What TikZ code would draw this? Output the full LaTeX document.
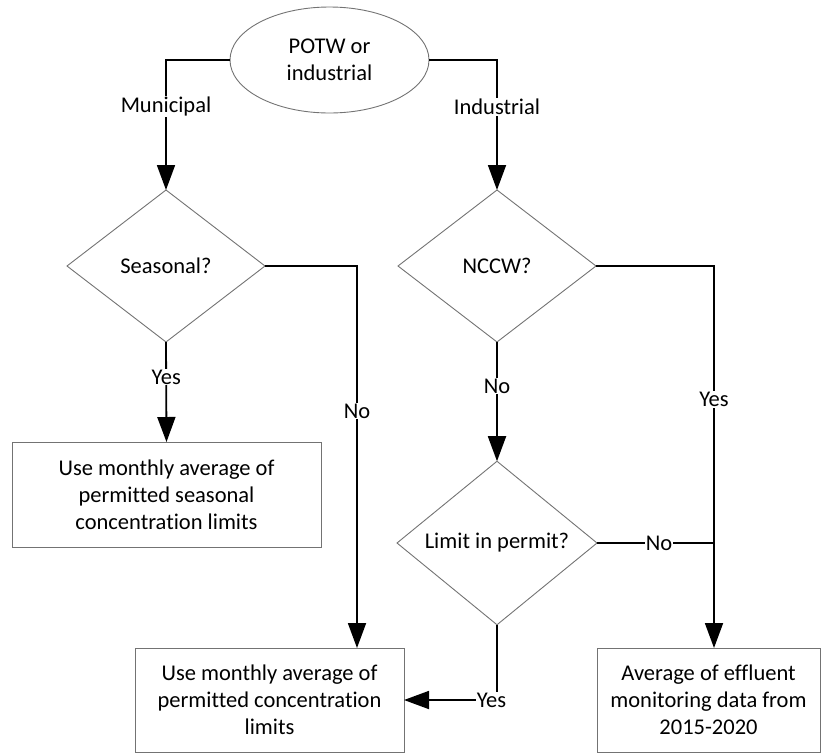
\documentclass[tikz,border=0pt]{standalone}
\usepackage{fontspec}
\setmainfont{Carlito}[Ligatures=NoCommon]
\usetikzlibrary{shapes.geometric}
\usetikzlibrary{arrows.meta}

\begin{document}
\begin{tikzpicture}[
        x = 1pt, y = -1pt,
        every node/.style = {font=\fontsize{22.5}{27}\selectfont},
        start/.style = {
            draw=black!55,
            ellipse,
            line width = 0.9pt,
            minimum width = 199pt,
            minimum height = 106pt,
            inner sep = 0pt,
            outer sep = 0pt,
            align = center
        },
        decision/.style = {
            draw=black!55,
            diamond,
            line width = 0.9pt,
            minimum width = #1,
            minimum height = 152pt,
            inner sep = 0pt,
            outer sep = 0pt
        },
        decision/.default = 198pt,
        block/.style = {
            draw=black!55,
            rectangle,
            line width = 0.9pt,
            minimum width = #1,
            minimum height = 104pt,
            inner sep = 0pt,
            outer sep = 0pt,
            align = center
        },
        block/.default = 269pt,
        conn/.style = {line width = 1.8pt, draw=black},
        flow/.style = {conn, -{Triangle[length=25pt, width=18pt]}},
        lab/.style = {fill=white, inner sep=1pt}
    ]
    \useasboundingbox (0,0) rectangle (821,753);
    {\node[start] (pot) at (329.5,60) {POTW or\\industrial};}
    {\node[decision] (seas) at (166,266) {Seasonal?};}
    {\node[decision] (nccw) at (497,266) {NCCW?};}
    {\node[block=309pt, minimum height=105pt] (seasbox) at (166.5,494.5) {Use monthly average of\\permitted seasonal\\concentration limits};}
    {\node[decision=200pt] (limit) at (497,543) {Limit in permit?};}
    {\node[block=269pt] (usebox) at (269.5,700) {Use monthly average of\\permitted concentration\\limits};}
    {\node[block=223pt] (avgbox) at (708.5,700) {Average of effluent\\monitoring data from\\2015-2020};}
    \coordinate (seasno) at (357,266);
    \coordinate (yesrail) at (714,266);
    \draw[flow] (pot.west) -| node[lab, pos=0.68]{Municipal} (seas.north);
    \draw[flow] (pot.east) -| node[lab, pos=0.68]{Industrial} (nccw.north);
    \draw[flow] (seas.south) -- node[lab, pos=0.35]{Yes} (seasbox.north);
    \draw[flow] (seas.east) -| node[lab, pos=0.69]{No} (seasno |- usebox.north);
    \draw[flow] (nccw.south) -- node[lab, pos=0.37]{No} (limit.north);
    \draw[flow] (nccw.east) -| node[lab, pos=0.675]{Yes} (yesrail |- avgbox.north);
    \draw[conn] (limit.east) -- node[lab, pos=0.53]{No} (limit.east -| yesrail);
    \draw[flow] (limit.south) |- node[lab, pos=0.53]{Yes} (usebox.east);
\end{tikzpicture}
\end{document}
